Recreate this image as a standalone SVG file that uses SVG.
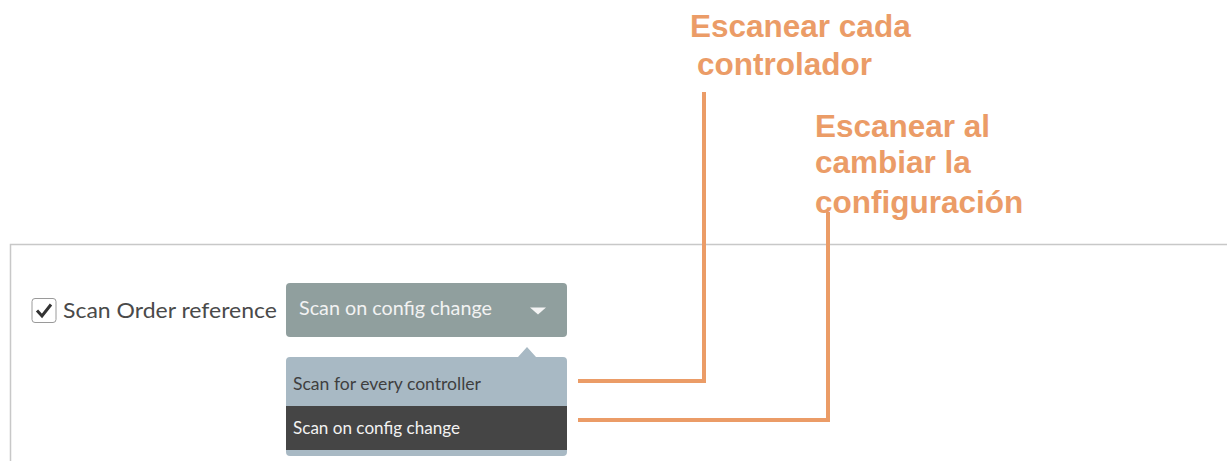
<svg xmlns="http://www.w3.org/2000/svg" width="1227" height="461" viewBox="0 0 1227 461">
<style>
.ui{font-family:Lato,"Open Sans","Liberation Sans",sans-serif}
.note{font-family:"Liberation Sans",Arial,sans-serif;font-weight:bold;font-size:31.5px;fill:#eb9c67}
.conn{fill:none;stroke:#eb9c67;stroke-width:4;stroke-linejoin:miter}
</style>
<rect width="1227" height="461" fill="#ffffff"/>
<g id="panel">
<path d="M10.5 461 V244.5 H1227" fill="none" stroke="#c8c8c8" stroke-width="1.5"/>
</g>
<g id="checkbox">
<rect x="32" y="298.5" width="24" height="24" rx="3" fill="#ffffff" stroke="#9a9a9a" stroke-width="1"/>
<path d="M37 310.5 L42 316 L51 304.5" fill="none" stroke="#333333" stroke-width="3"/>
<text class="ui" x="63" y="318" font-size="21" fill="#4a4a4a" textLength="214" lengthAdjust="spacingAndGlyphs">Scan Order reference</text>
</g>
<g id="dropdown">
<rect x="286" y="283" width="281" height="54" rx="4" fill="#909f9e"/>
<text class="ui" x="299" y="315" font-size="19.5" fill="#f2f2f2" textLength="193" lengthAdjust="spacingAndGlyphs">Scan on config change</text>
<path d="M530 307.5 H546 L538 314.5 Z" fill="#f4f4f4"/>
</g>
<g id="menu">
<path d="M290 357 H518 L527 347 L536 357 H563 Q567 357 567 361 V452 Q567 456 563 456 H290 Q286 456 286 452 V361 Q286 357 290 357 Z" fill="#a8b9c4"/>
<rect x="286" y="406" width="281" height="44" fill="#454545"/>
<text class="ui" x="293" y="390" font-size="17" fill="#3f3f3f" textLength="188" lengthAdjust="spacingAndGlyphs">Scan for every controller</text>
<text class="ui" x="293" y="434" font-size="17" fill="#f2f2f2" textLength="167" lengthAdjust="spacingAndGlyphs">Scan on config change</text>
</g>
<g id="connectors">
<path class="conn" d="M578 381 H704 V92"/>
<path class="conn" d="M578 420 H828 V212"/>
</g>
<g id="label1">
<text class="note" x="690" y="37">Escanear cada</text>
<text class="note" x="697" y="75">controlador</text>
</g>
<g id="label2">
<text class="note" x="815" y="137">Escanear al</text>
<text class="note" x="815" y="173">cambiar la</text>
<text class="note" x="815" y="213">configuración</text>
</g>
</svg>
